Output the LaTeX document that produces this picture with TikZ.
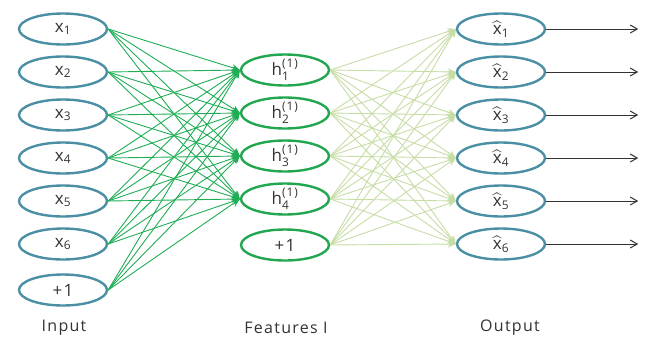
\documentclass[tikz,border=0pt]{standalone}
\usepackage{fontspec}
\setmainfont{Open Sans}[LetterSpace=8]
\usepackage{amsmath}
\usetikzlibrary{shapes.geometric,arrows.meta}

\definecolor{unitblue}{HTML}{4A8FA3}
\definecolor{unitgreen}{HTML}{22A650}
\definecolor{wgreen}{HTML}{1FAD55}
\definecolor{wlight}{HTML}{C6DDA6}
\definecolor{ink}{HTML}{333333}

\tikzset{
  unit/.style={ellipse, draw=unitblue, line width=2.4pt, minimum width=88pt, minimum height=31pt, inner sep=0pt, text=ink, font=\fontsize{17}{18}\selectfont},
  hunit/.style={unit, draw=unitgreen},
  wone/.style={draw=wgreen, line width=0.9pt, -{Stealth[length=8pt,width=7pt]}},
  wtwo/.style={draw=wlight, line width=0.9pt, -{Stealth[length=8pt,width=7pt]}},
  outarr/.style={draw=black!80, line width=1pt, -{Straight Barb[length=7pt,width=8pt]}},
  caption/.style={text=ink, font=\fontsize{16}{18}\selectfont}
}

\begin{document}
\begin{tikzpicture}[x=1pt,y=-1pt]
  \useasboundingbox (0,0) rectangle (645,338);

  % Define nodes
  \node[unit] (x_1) at (63,29)  {x\textsubscript{1}};
  \node[unit] (x_2) at (63,72)  {x\textsubscript{2}};
  \node[unit] (x_3) at (63,115) {x\textsubscript{3}};
  \node[unit] (x_4) at (63,158) {x\textsubscript{4}};
  \node[unit] (x_5) at (63,201) {x\textsubscript{5}};
  \node[unit] (x_6) at (63,244) {x\textsubscript{6}};
  \node[unit] (x_7) at (63,290) {+1};

  \node[hunit] (h_1) at (285,70)  {h$^{\text{(1)}}_{\text{1}}$};
  \node[hunit] (h_2) at (285,113) {h$^{\text{(1)}}_{\text{2}}$};
  \node[hunit] (h_3) at (285,156) {h$^{\text{(1)}}_{\text{3}}$};
  \node[hunit] (h_4) at (285,199) {h$^{\text{(1)}}_{\text{4}}$};
  \node[hunit] (h_5) at (285,245) {+1};

  \node[unit] (y_1) at (501,29)  {$\widehat{\text{x}}$\textsubscript{1}};
  \node[unit] (y_2) at (501,72)  {$\widehat{\text{x}}$\textsubscript{2}};
  \node[unit] (y_3) at (501,115) {$\widehat{\text{x}}$\textsubscript{3}};
  \node[unit] (y_4) at (501,158) {$\widehat{\text{x}}$\textsubscript{4}};
  \node[unit] (y_5) at (501,201) {$\widehat{\text{x}}$\textsubscript{5}};
  \node[unit] (y_6) at (501,244) {$\widehat{\text{x}}$\textsubscript{6}};

  \node[caption] (in)  at (64,328)  {Input};
  \node[caption] (hid) at (286,328) {Features I};
  \node[caption] (out) at (510,328) {Output};

  % Connect the nodes
  \foreach \i in {1,...,7}
    \foreach \j in {1,...,4}
      \draw[wone] (x_\i.east) -- (h_\j.west);
  \foreach \j in {1,...,5}
    \foreach \k in {1,...,6}
      \draw[wtwo] (h_\j.east) -- (y_\k.west);
  \foreach \k in {1,...,6} {
    \coordinate (e_\k) at ([xshift=92pt]y_\k.east);
    \draw[outarr] (y_\k.east) -- (e_\k);
  }

\end{tikzpicture}
\end{document}
